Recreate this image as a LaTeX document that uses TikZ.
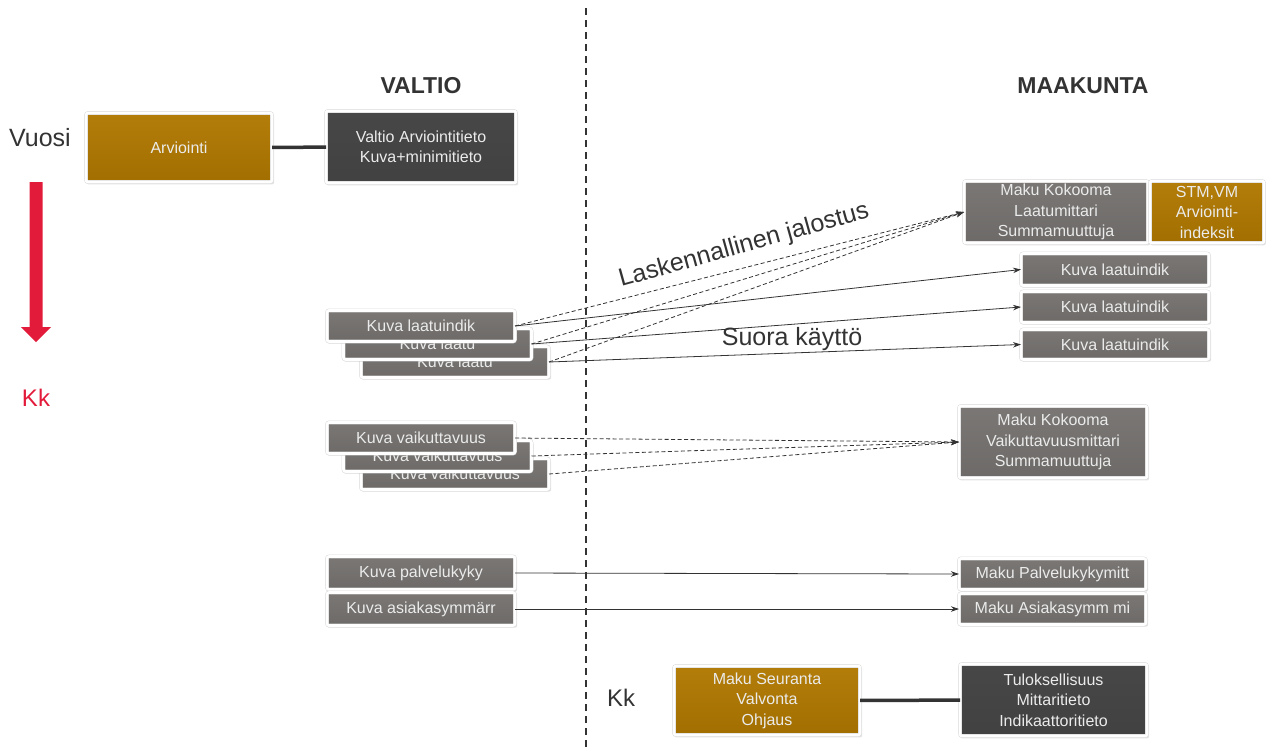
\documentclass[tikz,border=0pt]{standalone}
\usepackage{fontspec}
\setmainfont{Liberation Sans}
\usetikzlibrary{shadows,arrows.meta}
\definecolor{gold}{HTML}{B07800}
\definecolor{darkbox}{HTML}{474747}
\definecolor{greybox}{HTML}{767371}
\definecolor{redarrow}{HTML}{E31B3B}
\definecolor{ink}{HTML}{333333}
\tikzset{
  box/.style={draw=black!15, line width=0.5pt, double=white, double distance=2.6pt,
    rounded corners=2pt, text=white!92!black, align=center,
    font=\fontsize{16}{20.5}\selectfont, inner sep=0pt, outer sep=0pt,
    drop shadow={shadow xshift=1.2pt, shadow yshift=-2pt, shadow scale=1.01, opacity=0.22}},
  goldbox/.style={box, top color=gold!96!white, bottom color=gold!92!black},
  darkbx/.style={box, top color=darkbox, bottom color=darkbox!92!black},
  greybx/.style={box, top color=greybox!97!white, bottom color=greybox!92!black},
  small/.style={minimum width=188pt, minimum height=31pt},
  conn/.style={draw=ink, line width=0.8pt, -{Stealth[length=8pt,width=5.5pt]}},
  dconn/.style={conn, dash pattern=on 4pt off 2.5pt},
  thick link/.style={draw=ink, line width=3.5pt},
  big/.style={font=\fontsize{25}{28}\selectfont, text=ink},
}
\begin{document}
\begin{tikzpicture}[x=1pt,y=-1pt]
\useasboundingbox (0,0) rectangle (1268,748);
% divider
\coordinate (dtop) at (586,8);
\coordinate (dbot) at (586,748);
\draw[ink, line width=2.2pt, dash pattern=on 7pt off 5pt] (dtop) -- (dbot);
% left timeline
\node[big, anchor=center] (vuosi) at (40,138) {Vuosi};
\fill[redarrow] (29.5,182) -- (42.5,182) -- (42.5,327) -- (51,327) -- (36,342) -- (21,327) -- (29.5,327) -- cycle;
\node[font=\fontsize{24}{28}\selectfont, text=redarrow] (kkred) at (36,398) {Kk};
% headings
\node[font=\bfseries\fontsize{23}{28}\selectfont, text=ink] (valtio) at (421,86) {VALTIO};
\node[font=\bfseries\fontsize{23}{28}\selectfont, text=ink] (maakunta) at (1083,86) {MAAKUNTA};
% top row
\node[goldbox, minimum width=186pt, minimum height=69pt] (arv) at (179,147.5) {Arviointi};
\node[darkbx, minimum width=190pt, minimum height=72pt] (vat) at (421,147) {Valtio Arviointitieto\\Kuva+minimitieto};
\draw[thick link] (arv) -- (vat);
% maakunta kokooma
\node[greybx, minimum width=184pt, minimum height=62pt] (mkl) at (1056,212) {Maku Kokooma\\Laatumittari\\Summamuuttuja};
\node[goldbox, minimum width=114pt, minimum height=62pt] (stm) at (1207,212) {STM,VM\\Arviointi-\\indeksit};
\node[greybx, small, minimum height=32pt] (r1) at (1115,269.5) {Kuva laatuindik};
\node[greybx, small] (r2) at (1115,307) {Kuva laatuindik};
\node[greybx, small, minimum height=30pt] (r3) at (1115,344.5) {Kuva laatuindik};
% left stack laatu
\node[greybx, small] (l3) at (455,362) {Kuva laatu};
\node[greybx, small] (l2) at (437.5,344) {Kuva laatu};
\node[greybx, small] (l1) at (421,326) {Kuva laatuindik};
% vaikuttavuus
\node[greybx, small] (v3) at (455,474) {Kuva vaikuttavuus};
\node[greybx, small] (v2) at (437.5,456) {Kuva vaikuttavuus};
\node[greybx, small] (v1) at (421,438) {Kuva vaikuttavuus};
\node[greybx, minimum width=188pt, minimum height=72pt] (mkv) at (1053,442) {Maku Kokooma\\Vaikuttavuusmittari\\Summamuuttuja};
% palvelukyky
\node[greybx, small, minimum height=33pt] (p1) at (421,573) {Kuva palvelukyky};
\node[greybx, small, minimum height=33pt] (p2) at (421,609) {Kuva asiakasymmärr};
\node[greybx, minimum width=187pt, minimum height=31pt] (mp1) at (1052.5,574) {Maku Palvelukykymitt};
\node[greybx, minimum width=187pt, minimum height=31pt] (mp2) at (1052.5,609) {Maku Asiakasymm mi};
% bottom
\node[big, font=\fontsize{24}{28}\selectfont] (kk2) at (621,698) {Kk};
\node[goldbox, minimum width=186pt, minimum height=69pt] (ms) at (767,700.5) {Maku Seuranta\\Valvonta\\Ohjaus};
\node[darkbx, minimum width=187pt, minimum height=72pt] (tul) at (1053.5,700) {Tuloksellisuus\\Mittaritieto\\Indikaattoritieto};
\draw[thick link] (ms) -- (tul);
% connectors laatu
\draw[dconn] (l1.east) -- (mkl.west);
\draw[dconn] (l2.east) -- (mkl.west);
\draw[dconn] (l3.east) -- (mkl.west);
\draw[conn] (l1.east) -- (r1.west);
\draw[conn] (l2.east) -- (r2.west);
\draw[conn] (l3.east) -- (r3.west);
% connectors vaikuttavuus
\draw[dconn] (v1.east) -- (mkv.west);
\draw[dconn] (v2.east) -- (mkv.west);
\draw[dconn] (v3.east) -- (mkv.west);
% palvelukyky
\draw[conn] (p1.east) -- (mp1.west);
\draw[conn] (p2.east) -- (mp2.west);
% labels
\node[big, rotate=15.6] (lask) at (744,246) {Laskennallinen jalostus};
\node[big] (suora) at (792,339) {Suora käyttö};
\end{tikzpicture}
\end{document}
